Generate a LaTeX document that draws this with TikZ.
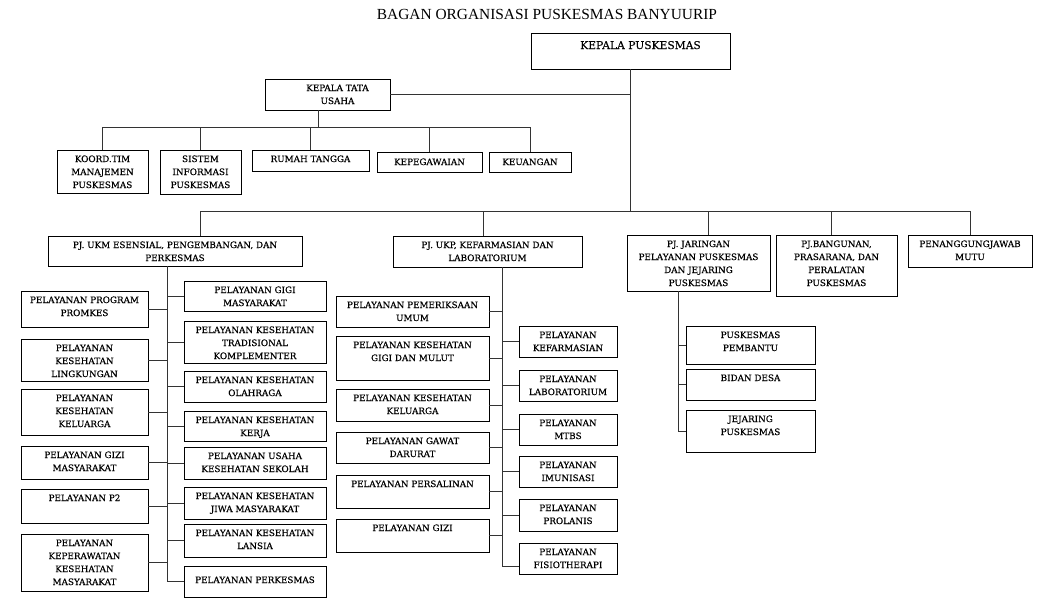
\documentclass[tikz,border=0pt]{standalone}
\usepackage{fontspec}
\setmainfont{Liberation Serif}
\newfontfamily\boxfont{DejaVu Serif}[FakeBold=0.3]
\usetikzlibrary{positioning,calc}

% text block of a unit box: width, height, top-aligned lines
\newcommand{\cell}[4][12pt]{\parbox[t][#3][t]{#2}{\centering\rule{0pt}{#1}#4}}

\begin{document}
\begin{tikzpicture}[x=1pt, y=-1pt,
    unit/.style={draw, line width=0.9pt, inner sep=0pt, outer sep=0pt, anchor=north west,
        font=\boxfont\fontsize{8.8}{13}\selectfont},
    link/.style={line width=0.8pt, black!80},
    heading/.style={font=\fontsize{15.4}{17}\selectfont},
]
\useasboundingbox (0,0) rectangle (1048,606);

% === Title ===
\node[heading] (title) at (547,14) {BAGAN ORGANISASI PUSKESMAS BANYUURIP};

% === Kepala Puskesmas and Tata Usaha ===
\node[unit, font=\boxfont\fontsize{10.7}{13}\selectfont] (kapus) at (531,33)
    {\cell[16pt]{199pt}{36pt}{\hspace*{20pt}KEPALA PUSKESMAS}};
\node[unit] (ktu) at (265,79) {\cell{125pt}{31pt}{\hspace*{20pt}KEPALA TATA\\\hspace*{20pt}USAHA}};

\node[unit] (koord) at (57,150) {\cell{91pt}{43pt}{KOORD.TIM\\MANAJEMEN\\PUSKESMAS}};
\node[unit] (sik) at (160,150) {\cell{81pt}{44pt}{SISTEM\\INFORMASI\\PUSKESMAS}};
\node[unit] (rt) at (252,150) {\cell{117pt}{21pt}{RUMAH TANGGA}};
\node[unit] (pegawai) at (377,152) {\cell[13pt]{105pt}{20pt}{KEPEGAWAIAN}};
\node[unit] (uang) at (489,152) {\cell[13pt]{82pt}{20pt}{KEUANGAN}};

% === Penanggung jawab ===
\node[unit] (ukm) at (48,236) {\cell{254pt}{30pt}{PJ. UKM ESENSIAL, PENGEMBANGAN, DAN\\PERKESMAS}};
\node[unit] (ukp) at (393,236) {\cell{189pt}{31pt}{PJ. UKP, KEFARMASIAN DAN\\LABORATORIUM}};
\node[unit] (jaringan) at (627,235) {\cell{143pt}{56pt}{PJ. JARINGAN\\PELAYANAN PUSKESMAS\\DAN JEJARING\\PUSKESMAS}};
\node[unit] (bangunan) at (776,235) {\cell{121pt}{61pt}{PJ.BANGUNAN,\\PRASARANA, DAN\\PERALATAN\\PUSKESMAS}};
\node[unit] (mutu) at (908,235) {\cell{124pt}{32pt}{PENANGGUNGJAWAB\\MUTU}};

% === UKM units ===
\node[unit] (promkes) at (21,291) {\cell{127pt}{36pt}{PELAYANAN PROGRAM\\PROMKES}};
\node[unit] (kesling) at (21,339) {\cell{127pt}{42pt}{PELAYANAN\\KESEHATAN\\LINGKUNGAN}};
\node[unit] (kesga) at (21,389) {\cell{127pt}{46pt}{PELAYANAN\\KESEHATAN\\KELUARGA}};
\node[unit] (gizimas) at (21,446) {\cell{127pt}{33pt}{PELAYANAN GIZI\\MASYARAKAT}};
\node[unit] (p2) at (21,489) {\cell{127pt}{34pt}{PELAYANAN P2}};
\node[unit] (perawatan) at (21,534) {\cell{127pt}{57pt}{PELAYANAN\\KEPERAWATAN\\KESEHATAN\\MASYARAKAT}};

\node[unit] (gigimas) at (184,281) {\cell{142pt}{30pt}{PELAYANAN GIGI\\MASYARAKAT}};
\node[unit] (batra) at (184,321) {\cell{142pt}{42pt}{PELAYANAN KESEHATAN\\TRADISIONAL\\KOMPLEMENTER}};
\node[unit] (olahraga) at (184,371) {\cell{142pt}{31pt}{PELAYANAN KESEHATAN\\OLAHRAGA}};
\node[unit] (kerja) at (184,411) {\cell{142pt}{30pt}{PELAYANAN KESEHATAN\\KERJA}};
\node[unit] (uks) at (184,447) {\cell{142pt}{32pt}{PELAYANAN USAHA\\KESEHATAN SEKOLAH}};
\node[unit] (jiwa) at (184,487) {\cell{142pt}{32pt}{PELAYANAN KESEHATAN\\JIWA MASYARAKAT}};
\node[unit] (lansia) at (184,524) {\cell{142pt}{33pt}{PELAYANAN KESEHATAN\\LANSIA}};
\node[unit] (perkesmas) at (184,566) {\cell[17pt]{142pt}{31pt}{PELAYANAN PERKESMAS}};

% === UKP units ===
\node[unit] (umum) at (336,296) {\cell{153pt}{31pt}{PELAYANAN PEMERIKSAAN\\UMUM}};
\node[unit] (gigimulut) at (336,336) {\cell{153pt}{44pt}{PELAYANAN KESEHATAN\\GIGI DAN MULUT}};
\node[unit] (kesgaukp) at (336,389) {\cell{153pt}{32pt}{PELAYANAN KESEHATAN\\KELUARGA}};
\node[unit] (gadar) at (336,432) {\cell{153pt}{31pt}{PELAYANAN GAWAT\\DARURAT}};
\node[unit] (salin) at (336,475) {\cell{153pt}{33pt}{PELAYANAN PERSALINAN}};
\node[unit] (gizi) at (336,519) {\cell{153pt}{33pt}{PELAYANAN GIZI}};

\node[unit] (farmasi) at (519,326) {\cell{98pt}{31pt}{PELAYANAN\\KEFARMASIAN}};
\node[unit] (lab) at (519,370) {\cell{98pt}{31pt}{PELAYANAN\\LABORATORIUM}};
\node[unit] (mtbs) at (519,414) {\cell{98pt}{31pt}{PELAYANAN\\MTBS}};
\node[unit] (imunisasi) at (519,456) {\cell{98pt}{31pt}{PELAYANAN\\IMUNISASI}};
\node[unit] (prolanis) at (519,499) {\cell{98pt}{32pt}{PELAYANAN\\PROLANIS}};
\node[unit] (fisio) at (519,543) {\cell{98pt}{31pt}{PELAYANAN\\FISIOTHERAPI}};

% === Jaringan units ===
\node[unit] (pustu) at (686,326) {\cell{129pt}{38pt}{PUSKESMAS\\PEMBANTU}};
\node[unit] (bidan) at (686,369) {\cell{129pt}{31pt}{BIDAN DESA}};
\node[unit] (jejaring) at (686,410) {\cell{129pt}{42pt}{JEJARING\\PUSKESMAS}};

% === Connectors ===
\coordinate (mainbus) at (0,211);
\coordinate (tubus) at (0,127);

\draw[link] (kapus.south) -- (kapus.south |- mainbus);
\draw[link] (ktu.east) -- (ktu.east -| kapus.south);

\coordinate (ktudrop) at ([xshift=-9pt]ktu.south);
\draw[link] (ktudrop) -- (ktudrop |- tubus);
\draw[link] (koord.north |- tubus) -- (uang.north |- tubus);
\foreach \n in {koord, sik, rt, pegawai, uang}
    \draw[link] (\n.north |- tubus) -- (\n.north);

\coordinate (ukmtop) at ([xshift=25pt]ukm.north);
\coordinate (ukptop) at ([xshift=-4pt]ukp.north);
\coordinate (jartop) at ([xshift=10pt]jaringan.north);
\coordinate (bgntop) at ([xshift=-5pt]bangunan.north);
\draw[link] (ukmtop |- mainbus) -- (mutu.north |- mainbus);
\foreach \c in {ukmtop, ukptop, jartop, bgntop, mutu.north}
    \draw[link] (\c |- mainbus) -- (\c);

% UKM spine
\coordinate (ukmsp) at ([xshift=-8pt]ukm.south);
\draw[link] (ukmsp) |- (perkesmas.west);
\foreach \n in {promkes, kesling, kesga, gizimas, p2, perawatan}
    \draw[link] (\n.east) -- (\n.east -| ukmsp);
\foreach \n in {gigimas, batra, olahraga, kerja, uks, jiwa, lansia}
    \draw[link] (\n.west) -- (\n.west -| ukmsp);

% UKP spine
\coordinate (ukpsp) at ([xshift=15pt]ukp.south);
\draw[link] (ukpsp) |- ([yshift=-8pt]fisio.west);
\foreach \n in {umum, gigimulut, kesgaukp, gadar, salin, gizi}
    \draw[link] (\n.east) -- (\n.east -| ukpsp);
\foreach \n in {farmasi, lab, mtbs, imunisasi, prolanis}
    \draw[link] (\n.west) -- (\n.west -| ukpsp);

% Jaringan spine
\coordinate (jarsp) at ([xshift=-20pt]jaringan.south);
\draw[link] (jarsp) |- (jejaring.west);
\foreach \n in {pustu, bidan}
    \draw[link] (\n.west) -- (\n.west -| jarsp);

\end{tikzpicture}
\end{document}
